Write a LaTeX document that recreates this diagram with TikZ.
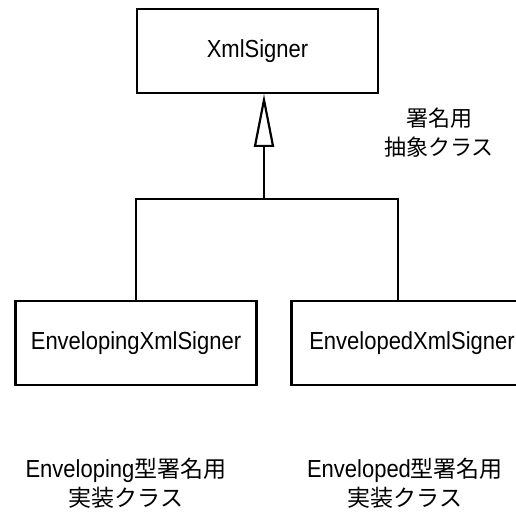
\documentclass[tikz,border=0pt]{standalone}
\usepackage{fontspec}
\setmainfont{Liberation Sans}
\newfontfamily\jp{Noto Sans CJK JP}
\usetikzlibrary{arrows.meta}
\begin{document}
\begin{tikzpicture}[x=1pt,y=1pt,
  classbox/.style={draw,line width=2.8pt,minimum width=241pt,minimum height=84pt,inner sep=0pt,
    font=\fontsize{22}{26}\selectfont},
  conn/.style={line width=2.4pt},
  lbl/.style={align=center,inner sep=0pt,font=\fontsize{22}{29}\selectfont}]
\useasboundingbox (0,0) rectangle (516,511);
\node[classbox] (xml) at (257.5,460) {\scalebox{1}[1.12]{XmlSigner}};
\node[classbox] (left) at (136,168) {\scalebox{1}[1.12]{EnvelopingXmlSigner}};
\node[classbox] (right) at (412,168) {\scalebox{1}[1.12]{EnvelopedXmlSigner}};
\coordinate (j) at (264,312);
\coordinate (lj) at (136,312);
\coordinate (rj) at (398,312);
\coordinate (rtop) at (398,210);
\coordinate (apex) at (264,417);
\draw[conn] (left.north) -- (lj) -- (rj) -- (rtop);
\draw[conn,-{Triangle[open,length=53pt,width=20pt,line width=2.2pt]}] (j) -- (apex);
\node[lbl] (abs) at (439,378.5) {{\jp 署名用}\\{\jp 抽象クラス}};
\node[lbl] (llbl) at (126,27.5) {\scalebox{1}[1.12]{Enveloping}{\fontsize{23}{29}\selectfont\jp 型署名用}\\{\fontsize{23}{29}\selectfont\jp 実装クラス}};
\node[lbl] (rlbl) at (405,27.5) {\scalebox{1}[1.12]{Enveloped}{\fontsize{23}{29}\selectfont\jp 型署名用}\\{\fontsize{23}{29}\selectfont\jp 実装クラス}};
\end{tikzpicture}
\end{document}
